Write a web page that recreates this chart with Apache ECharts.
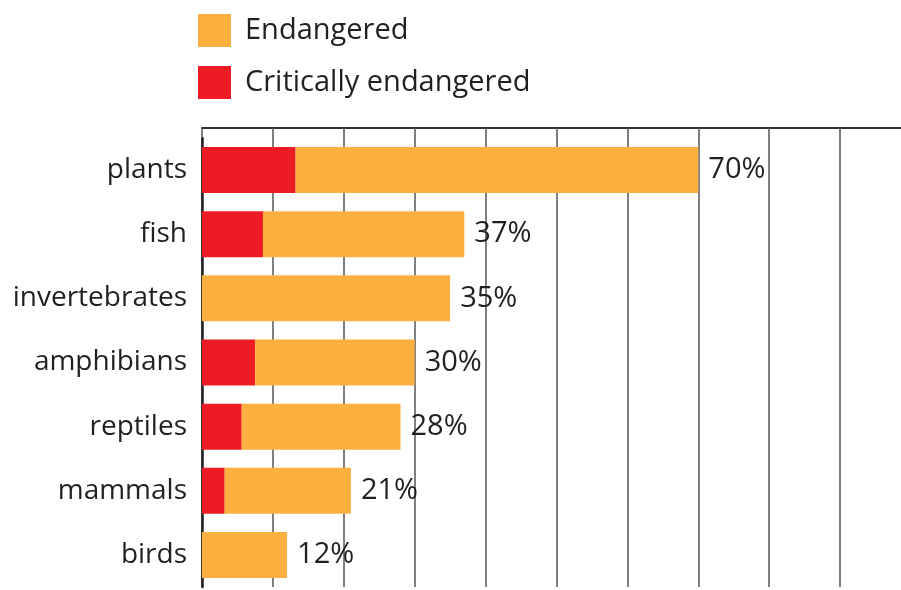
<!DOCTYPE html>
<html>
<head>
<meta charset="utf-8">
<script src="https://cdn.jsdelivr.net/npm/echarts@6/dist/echarts.min.js"></script>
<style>
  html, body { margin: 0; padding: 0; background: #fff; overflow: hidden; width: 901px; height: 590px; }
  /* the plot runs on past the right edge, up to 100% */
  #chart { width: 911px; height: 590px; }
</style>
</head>
<body>
<div id="chart"></div>
<script>
// species groups, top to bottom
const categories = ['plants', 'fish', 'invertebrates', 'amphibians', 'reptiles', 'mammals', 'birds']
// share threatened, in %
const totals = [70, 37, 35, 30, 28, 21, 12]
const critical = [13.2, 8.6, 0, 7.5, 5.6, 3.2, 0]
const xTicks = [0, 10, 20, 30, 40, 50, 60, 70, 80, 90, 100]

const textColor = '#231f20'
const font = '"Myriad Pro", "Open Sans", sans-serif'

// the orange part is what is left after the red part
const endangered = totals.map((t, i) => +(t - critical[i]).toFixed(1))

const chart = echarts.init(document.getElementById('chart'))
chart.setOption({
  animation: false,
  textStyle: { fontFamily: font },
  legend: {
    orient: 'vertical',
    left: 198,
    top: 14,
    padding: 0,
    itemWidth: 33,
    itemHeight: 33,
    itemGap: 19,
    icon: 'rect',
    data: ['Endangered', 'Critically endangered'],
    textStyle: { fontSize: 29, color: textColor, fontFamily: font, padding: [2, 0, 0, 9] }
  },
  grid: { left: 202, right: 0, top: 138, bottom: 3 },
  xAxis: {
    type: 'value',
    position: 'top',
    offset: 10,
    min: xTicks[0],
    max: xTicks[xTicks.length - 1],
    interval: 10,
    axisLabel: { show: false },
    axisLine: { show: true, lineStyle: { color: '#333', width: 2 } },
    axisTick: { show: true, inside: true, length: 10, lineStyle: { color: '#555', width: 1.5 } },
    splitLine: { show: true, lineStyle: { color: '#555', width: 1.5 } }
  },
  yAxis: {
    type: 'category',
    inverse: true,
    data: categories,
    axisTick: { show: false },
    axisLine: { show: true, lineStyle: { color: textColor, width: 2.5 } },
    axisLabel: { fontSize: 28, color: textColor, margin: 15, fontFamily: font }
  },
  series: [
    {
      name: 'Critically endangered',
      type: 'bar',
      stack: 'all',
      barWidth: 46,
      itemStyle: { color: '#ed1c24' },
      data: critical
    },
    {
      name: 'Endangered',
      type: 'bar',
      stack: 'all',
      barWidth: 46,
      itemStyle: { color: '#fbb040' },
      label: {
        show: true,
        position: 'right',
        distance: 10,
        fontSize: 29,
        color: textColor,
        fontFamily: font,
        formatter: p => totals[p.dataIndex] + '%'
      },
      data: endangered
    }
  ]
})
</script>
</body>
</html>
